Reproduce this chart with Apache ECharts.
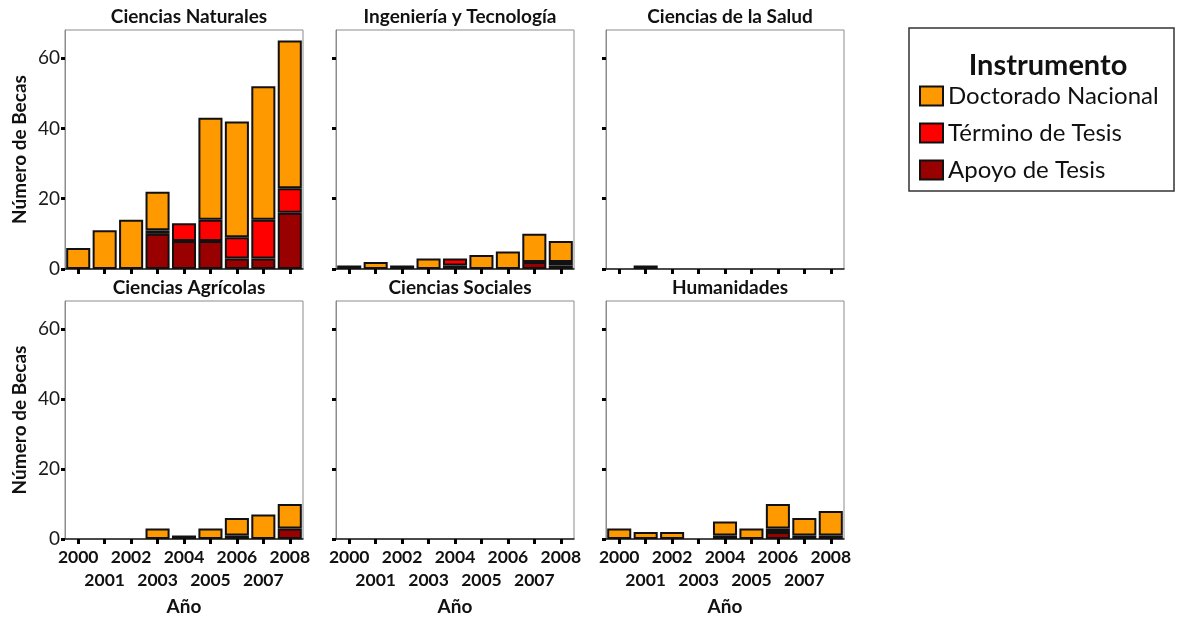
<!DOCTYPE html>
<html><head><meta charset="utf-8">
<script src="https://cdn.jsdelivr.net/npm/echarts@6/dist/echarts.min.js"></script>
<style>html,body{margin:0;padding:0;background:#fff}#c{width:1177px;height:621px}</style>
</head><body><div id="c"></div>
<script>
const years = ['2000','2001','2002','2003','2004','2005','2006','2007','2008'];
const panelNames = ['Ciencias Naturales','Ingeniería y Tecnología','Ciencias de la Salud','Ciencias Agrícolas','Ciencias Sociales','Humanidades'];
const seriesNames = ['Doctorado Nacional','Término de Tesis','Apoyo de Tesis'];
const yTicks = [0,20,40,60];

const naturalesDoctorado = [6,11,14,11,0,29,33,38,42];
const naturalesTermino   = [0,0,0,1,5,6,6,11,7];
const naturalesApoyo     = [0,0,0,10,8,8,3,3,16];

const ingenieriaDoctorado = [1,2,1,3,0,4,5,8,6];
const ingenieriaTermino   = [0,0,0,0,2,0,0,0,1];
const ingenieriaApoyo     = [0,0,0,0,1,0,0,2,1];

const saludDoctorado = [0,1,0,0,0,0,0,0,0];
const saludTermino   = [0,0,0,0,0,0,0,0,0];
const saludApoyo     = [0,0,0,0,0,0,0,0,0];

const agricolasDoctorado = [0,0,0,3,0,3,5,7,7];
const agricolasTermino   = [0,0,0,0,0,0,1,0,0];
const agricolasApoyo     = [0,0,0,0,1,0,0,0,3];

const socialesDoctorado = [0,0,0,0,0,0,0,0,0];
const socialesTermino   = [0,0,0,0,0,0,0,0,0];
const socialesApoyo     = [0,0,0,0,0,0,0,0,0];

const humanidadesDoctorado = [3,2,2,0,4,3,7,5,7];
const humanidadesTermino   = [0,0,0,0,1,0,1,0,1];
const humanidadesApoyo     = [0,0,0,0,0,0,2,1,0];

const panelData = [
  [naturalesDoctorado, naturalesTermino, naturalesApoyo],
  [ingenieriaDoctorado, ingenieriaTermino, ingenieriaApoyo],
  [saludDoctorado, saludTermino, saludApoyo],
  [agricolasDoctorado, agricolasTermino, agricolasApoyo],
  [socialesDoctorado, socialesTermino, socialesApoyo],
  [humanidadesDoctorado, humanidadesTermino, humanidadesApoyo]
];
const colors = ['#FF9900','#FF0000','#990000'];
const FONT = 'Lato';

const lefts = [65, 336, 606];
const tops = [30, 301];
const W = 238, H = 239;

const grids = [], xAxes = [], yAxes = [], series = [], titles = [];
for (let p = 0; p < 6; p++) {
  const col = p % 3, row = Math.floor(p / 3);
  grids.push({left: lefts[col], top: tops[row], width: W, height: H - row,
    show: true, borderColor: '#8c8c8c', borderWidth: 1, backgroundColor: '#fff'});
  titles.push({text: panelNames[p], left: lefts[col] + W / 2, top: tops[row] - 28, textAlign: 'center',
    textStyle: {fontFamily: FONT, fontWeight: 'bold', fontSize: 19, color: '#111'}});
  xAxes.push({type: 'category', gridIndex: p, data: years,
    axisLine: {show: true, lineStyle: {color: '#222', width: 1.5}},
    axisTick: {show: true, alignWithLabel: true, length: 5, lineStyle: {color: '#000', width: 3}},
    axisLabel: {show: row === 1, fontFamily: FONT, fontWeight: 'bold', fontSize: 17.5, color: '#111',
      interval: 0, margin: 7, lineHeight: 23,
      formatter: (v, i) => (i % 2 ? '\n' + v : v)},
    name: row === 1 ? 'Año' : '', nameLocation: 'middle', nameGap: 58,
    nameTextStyle: {fontFamily: FONT, fontWeight: 'bold', fontSize: 19, color: '#111'}
  });
  yAxes.push({type: 'value', gridIndex: p, min: 0, max: 68,
    axisLine: {show: true, lineStyle: {color: '#8c8c8c', width: 1}},
    axisTick: {show: true, length: 4, customValues: yTicks, lineStyle: {color: '#000', width: 3}},
    axisLabel: {show: col === 0, customValues: yTicks, fontFamily: FONT, fontSize: 19, color: '#1a1a1a', margin: 5},
    splitLine: {show: false},
    name: col === 0 ? 'Número de Becas' : '', nameLocation: 'middle', nameGap: 36,
    nameTextStyle: {fontFamily: FONT, fontWeight: 'bold', fontSize: 19, color: '#111'}
  });
  // stack bottom-up: Apoyo, Término, Doctorado
  [2, 1, 0].forEach(k => {
    series.push({type: 'bar', name: seriesNames[k], xAxisIndex: p, yAxisIndex: p, stack: 'p' + p,
      barCategoryGap: '9%',
      data: panelData[p][k].map(v => (v === 0 ? null : v)),
      itemStyle: {color: colors[k], borderColor: '#111', borderWidth: 2},
      emphasis: {disabled: true}, animation: false});
  });
}
titles.push({text: 'Instrumento', left: 1043, top: 46, textAlign: 'center',
  textStyle: {fontFamily: FONT, fontWeight: 'bold', fontSize: 29, color: '#111'}});

const chart = echarts.init(document.getElementById('c'), null, {renderer: 'canvas'});
chart.setOption({
  backgroundColor: '#fff',
  animation: false,
  title: titles,
  grid: grids, xAxis: xAxes, yAxis: yAxes, series: series,
  legend: {data: seriesNames, orient: 'vertical', left: 914, top: 79, itemWidth: 23, itemHeight: 19,
    itemGap: 13, icon: 'rect', selectedMode: false,
    textStyle: {fontFamily: FONT, fontSize: 24, color: '#111', padding: [0, 0, 0, 0]}},
  graphic: [{type: 'rect', shape: {x: 909, y: 28, width: 265, height: 163},
    style: {fill: 'none', stroke: '#333', lineWidth: 1.5}, z: 100}]
});
</script></body></html>
